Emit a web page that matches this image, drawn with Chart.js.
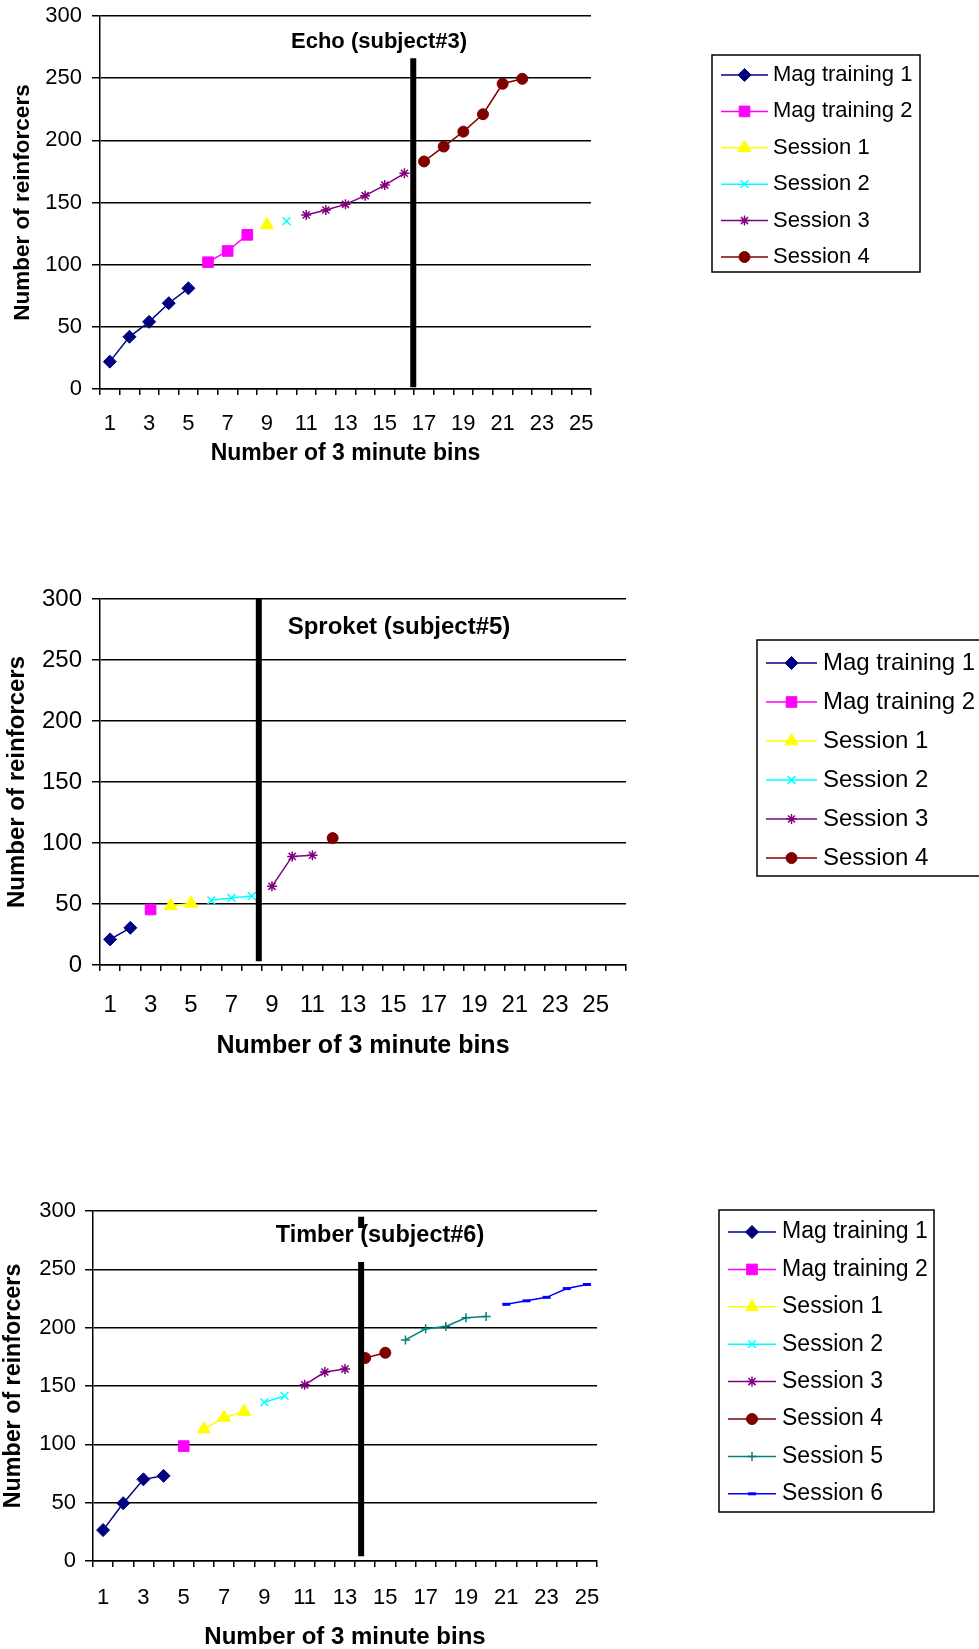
<!DOCTYPE html>
<html lang="en">
  <head>
    <meta charset="UTF-8" />
    <title>Number of reinforcers per 3 minute bin</title>
    <script src="https://cdn.jsdelivr.net/npm/chart.js"></script>
    <style>
      body {
        margin: 0;
        background-color: #ffffff;
      }
      canvas {
        position: absolute;
        left: 0;
      }
    </style>
  </head>
  <body>
    <canvas id="echo" width="979" height="480" style="top: 0px"></canvas>
    <canvas id="sproket" width="979" height="510" style="top: 570px"></canvas>
    <canvas id="timber" width="979" height="469" style="top: 1180px"></canvas>

    <script>
      const bins = [1, 2, 3, 4, 5, 6, 7, 8, 9, 10, 11, 12, 13, 14, 15, 16, 17, 18, 19, 20, 21, 22, 23, 24, 25];
      // the Sproket axis has one extra (unlabelled) bin on the right
      const sproketBins = [1, 2, 3, 4, 5, 6, 7, 8, 9, 10, 11, 12, 13, 14, 15, 16, 17, 18, 19, 20, 21, 22, 23, 24, 25, 26];
      const seriesNames = [
        "Mag training 1",
        "Mag training 2",
        "Session 1",
        "Session 2",
        "Session 3",
        "Session 4",
        "Session 5",
        "Session 6",
      ];
      const seriesColors = ["#000080", "#ff00ff", "#ffff00", "#00ffff", "#800080", "#800000", "#008080", "#0000ff"];
      const seriesMarkers = ["rectRot", "rect", "triangle", "crossRot", "star", "circle", "cross", "line"];
      const markerRadius = [6.5, 7.5, 7.5, 5.5, 5, 5.5, 4.5, 4];
      const markerBorder = [1, 1, 1, 1.5, 1.5, 1, 1.5, 3];

      // Echo (subject#3)
      const echoStart = [1, 6, 9, 10, 11, 17]; // first bin of each series
      const echoMag1 = [22, 42, 54, 69, 81];
      const echoMag2 = [102, 111, 124];
      const echoS1 = [132];
      const echoS2 = [135];
      const echoS3 = [140, 144, 148.5, 155.5, 164, 173.5];
      const echoS4 = [183, 195, 207, 221, 245.5, 249.5];
      const echoSplit = 16.45;
      const echoSplitRange = [1.5, 266];

      // Sproket (subject#5)
      const sproketStart = [1, 3, 4, 6, 9, 12];
      const sproketMag1 = [21, 30.5];
      const sproketMag2 = [45.5];
      const sproketS1 = [48.5, 50.5];
      const sproketS2 = [53, 55, 56.5];
      const sproketS3 = [64.5, 89, 90];
      const sproketS4 = [104];
      const sproketSplit = 8.35;
      const sproketSplitRange = [3, 300];

      // Timber (subject#6)
      const timberStart = [1, 5, 6, 9, 11, 14, 16, 21];
      const timberMag1 = [26.5, 49.5, 70, 73];
      const timberMag2 = [98.5];
      const timberS1 = [113, 123, 128];
      const timberS2 = [136, 141.5];
      const timberS3 = [151, 162, 164.5];
      const timberS4 = [174, 178.5];
      const timberS5 = [189.5, 199, 201, 208.5, 209.5];
      const timberS6 = [220, 223, 226, 233.5, 237];
      const timberSplit = 13.8;
      const timberSplitRange = [4, 295];

      const FONT = '"Liberation Sans", Arial, sans-serif';

      // draws the session divider, the subject title and the boxed legend
      function overlay(cfg) {
        return {
          id: "overlay",
          afterDatasetsDraw(chart) {
            const ctx = chart.ctx;
            const xs = chart.scales.x;
            const ys = chart.scales.y;
            ctx.save();

            // divider between sessions
            const lx = xs.getPixelForValue(cfg.split - 1);
            ctx.strokeStyle = "#000";
            ctx.lineWidth = 6;
            ctx.beginPath();
            ctx.moveTo(lx, ys.getPixelForValue(cfg.splitRange[0]));
            ctx.lineTo(lx, ys.getPixelForValue(cfg.splitRange[1]));
            ctx.stroke();

            // title
            ctx.font = "bold " + cfg.fs.title + "px " + FONT;
            ctx.textAlign = "center";
            ctx.textBaseline = "middle";
            if (cfg.titleBox) {
              const w = ctx.measureText(cfg.title).width + 8;
              ctx.fillStyle = "#fff";
              ctx.fillRect(cfg.titleX - w / 2, cfg.titleBox[0], w, cfg.titleBox[1] - cfg.titleBox[0]);
            }
            ctx.fillStyle = "#000";
            ctx.fillText(cfg.title, cfg.titleX, cfg.titleY);

            // legend
            const lg = cfg.legend;
            ctx.lineWidth = 1.5;
            ctx.strokeStyle = "#000";
            ctx.strokeRect(lg.x, lg.y, lg.w, lg.h);
            ctx.font = cfg.fs.legend + "px " + FONT;
            ctx.textAlign = "left";
            chart.data.datasets.forEach((ds, i) => {
              const y = lg.first + i * lg.step;
              ctx.strokeStyle = ds.borderColor;
              ctx.fillStyle = ds.borderColor;
              ctx.lineWidth = 1.5;
              ctx.beginPath();
              ctx.moveTo(lg.line[0], y);
              ctx.lineTo(lg.line[1], y);
              ctx.stroke();
              ctx.lineWidth = ds.pointBorderWidth;
              Chart.helpers.drawPoint(
                ctx,
                { pointStyle: ds.pointStyle, radius: ds.pointRadius, borderWidth: ds.pointBorderWidth, rotation: 0 },
                (lg.line[0] + lg.line[1]) / 2,
                y
              );
              ctx.fillStyle = "#000";
              ctx.fillText(ds.label, lg.text, y);
            });
            ctx.restore();
          },
        };
      }

      function makeChart(id, cfg) {
        const canvas = document.getElementById(id);
        const H = canvas.height;
        const datasets = cfg.series.map((vals, i) => ({
          label: seriesNames[i],
          data: vals.map((v, j) => ({ x: cfg.start[i] + j, y: v })),
          borderColor: seriesColors[i],
          backgroundColor: seriesColors[i],
          borderWidth: 1.5,
          pointStyle: seriesMarkers[i],
          pointRadius: markerRadius[i],
          pointBorderWidth: markerBorder[i],
          tension: 0,
        }));

        return new Chart(canvas, {
          type: "line",
          data: { labels: cfg.bins, datasets: datasets },
          options: {
            responsive: false,
            animation: false,
            layout: {
              padding: { left: 0, top: cfg.plot.top, right: 979 - cfg.plot.right, bottom: 0 },
            },
            plugins: {
              legend: { display: false },
              tooltip: { enabled: false },
            },
            scales: {
              x: {
                type: "category",
                offset: true,
                grid: {
                  offset: true,
                  drawOnChartArea: false,
                  tickLength: 6,
                  color: "#000",
                  lineWidth: 1.5,
                },
                border: { color: "#000", width: 1.5 },
                ticks: {
                  autoSkip: false,
                  maxRotation: 0,
                  color: "#000",
                  padding: cfg.xTickPad,
                  font: { family: FONT, size: cfg.fs.tick, lineHeight: 1.2 },
                  callback: function (value) {
                    const b = this.getLabelForValue(value);
                    return b % 2 ? String(b) : "";
                  },
                },
                title: {
                  display: true,
                  text: "Number of 3 minute bins",
                  color: "#000",
                  padding: { top: 0, bottom: cfg.xTitlePad },
                  font: { family: FONT, size: cfg.fs.xAxis, weight: "bold", lineHeight: 1 },
                },
                afterFit: (s) => {
                  s.height = H - cfg.plot.bottom;
                },
              },
              y: {
                min: 0,
                max: 300,
                grid: { color: "#000", lineWidth: 1.5, tickLength: 8 },
                border: { color: "#000", width: 1.5 },
                ticks: {
                  stepSize: 50,
                  color: "#000",
                  padding: cfg.yTickPad,
                  font: { family: FONT, size: cfg.fs.tick, lineHeight: 0.5 },
                },
                title: {
                  display: true,
                  text: "Number of reinforcers",
                  color: "#000",
                  padding: { top: cfg.yTitlePad, bottom: 0 },
                  font: { family: FONT, size: cfg.fs.yAxis, weight: "bold", lineHeight: 1.2 },
                },
                afterFit: (s) => {
                  s.width = cfg.plot.left;
                },
              },
            },
          },
          plugins: [overlay(cfg)],
        });
      }

      makeChart("echo", {
        bins: bins,
        series: [echoMag1, echoMag2, echoS1, echoS2, echoS3, echoS4],
        start: echoStart,
        split: echoSplit,
        splitRange: echoSplitRange,
        plot: { left: 100, right: 591, top: 16, bottom: 389 },
        fs: { tick: 22, xAxis: 23, yAxis: 22.5, title: 22, legend: 22 },
        xTickPad: 15.5,
        xTitlePad: 15,
        yTickPad: 10,
        yTitlePad: 9.5,
        title: "Echo (subject#3)",
        titleX: 379,
        titleY: 42,
        legend: { x: 712, y: 55, w: 208, h: 217, first: 75, step: 36.4, line: [721, 768], text: 773 },
      });

      makeChart("sproket", {
        bins: sproketBins,
        series: [sproketMag1, sproketMag2, sproketS1, sproketS2, sproketS3, sproketS4],
        start: sproketStart,
        split: sproketSplit,
        splitRange: sproketSplitRange,
        plot: { left: 100, right: 626, top: 29, bottom: 395 },
        fs: { tick: 24, xAxis: 25, yAxis: 24, title: 24, legend: 24 },
        xTickPad: 19.5,
        xTitlePad: 21,
        yTickPad: 10,
        yTitlePad: 3,
        title: "Sproket (subject#5)",
        titleX: 399,
        titleY: 57,
        legend: { x: 757, y: 70, w: 240, h: 236, first: 93, step: 39, line: [766, 817], text: 823 },
      });

      makeChart("timber", {
        bins: bins,
        series: [timberMag1, timberMag2, timberS1, timberS2, timberS3, timberS4, timberS5, timberS6],
        start: timberStart,
        split: timberSplit,
        splitRange: timberSplitRange,
        plot: { left: 93, right: 597, top: 31, bottom: 381 },
        fs: { tick: 22, xAxis: 24, yAxis: 23.3, title: 23.5, legend: 23 },
        xTickPad: 17.5,
        xTitlePad: 0,
        yTickPad: 9,
        yTitlePad: 0,
        title: "Timber (subject#6)",
        titleX: 380,
        titleY: 56,
        titleBox: [48, 82],
        legend: { x: 719, y: 30, w: 215, h: 302, first: 52, step: 37.4, line: [728, 776], text: 782 },
      });
    </script>
  </body>
</html>
